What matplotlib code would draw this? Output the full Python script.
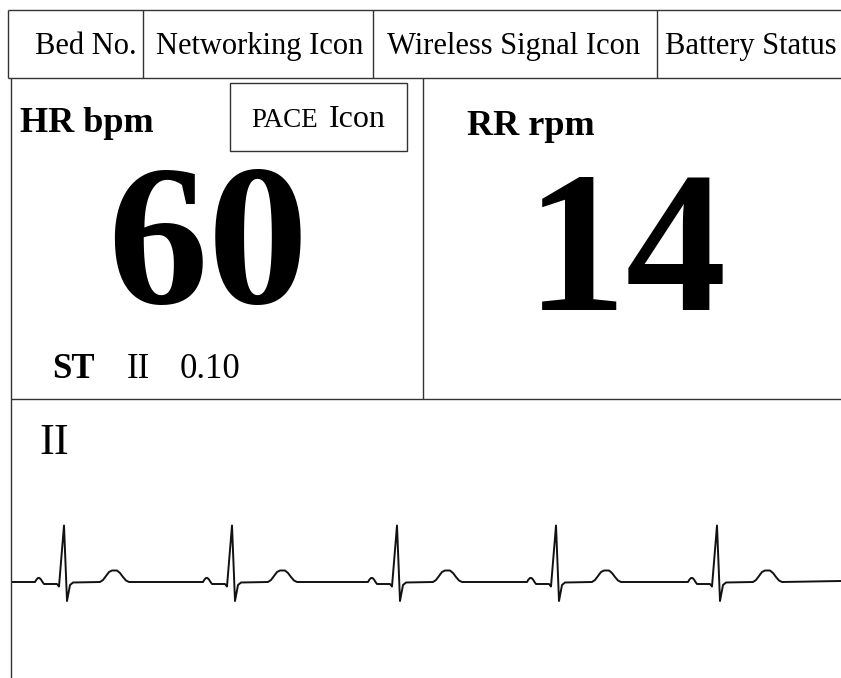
import numpy as np
import matplotlib.pyplot as plt
from matplotlib.patches import Rectangle

# Teksty paska nagłówka (pozycje środków w pikselach)
header_labels = ['Bed No.', 'Networking Icon', 'Wireless Signal Icon', 'Battery Status']
header_centers = [86, 260, 514, 751]
header_dividers = [143, 373, 657]

# Parametry życiowe
hr_value = '60'
rr_value = '14'
st_lead = 'II'
st_value = '0.10'
ecg_lead = 'II'

# Położenia załamków R (x) i kształt jednego pobudzenia (dx, dy)
r_peaks = [64, 232, 397, 556, 717]
beat_dx = [-29, -27.5, -26, -24.5, -23, -21.5, -20, -7, -5, 0, 3, 6, 9,
           36, 39, 42, 45, 48, 53, 56, 59, 62, 65]
beat_dy = [0, -2.5, -4, -4, -2.5, 0, 2, 2, 4.5, -56.5, 19, 3, 0.5,
           0, -2, -6, -10, -11.5, -11.5, -9, -5, -1.5, 0]
ecg_start = 13
ecg_end = 841
ecg_baseline = 582

SERIF = ['Liberation Serif', 'DejaVu Serif']
LINE_COLOR = '#333333'
LW = 1.0

fig = plt.figure(figsize=(8.41, 6.78), dpi=100)
ax = fig.add_axes([0, 0, 1, 1])
ax.set_xlim(0, 841)
ax.set_ylim(678, 0)
ax.axis('off')


def hline(y, x0, x1):
    ax.plot([x0, x1], [y, y], color=LINE_COLOR, lw=LW, solid_capstyle='butt')


def vline(x, y0, y1):
    ax.plot([x, x], [y0, y1], color=LINE_COLOR, lw=LW, solid_capstyle='butt')


# Pasek nagłówka
hline(10, 8, 841)
hline(78, 8, 841)
vline(8, 10, 78)
for xd in header_dividers:
    vline(xd, 10, 78)
for label, cx in zip(header_labels, header_centers):
    ax.text(cx, 54, label, ha='center', va='baseline', fontsize=22, family=SERIF)

# Panele HR / RR
vline(11, 78, 678)
vline(423, 78, 399)
hline(399, 11, 841)

ax.text(20, 132, 'HR bpm', ha='left', va='baseline', fontsize=26,
        fontweight='bold', family=SERIF)
ax.add_patch(Rectangle((230, 83), 177, 68, fill=False, edgecolor=LINE_COLOR, lw=LW))
ax.text(251, 127, 'PACE', ha='left', va='baseline', fontsize=19.5, family=SERIF)
ax.text(386, 127, 'Icon', ha='right', va='baseline', fontsize=23, family=SERIF)
ax.text(208, 303, hr_value, ha='center', va='baseline', fontsize=145,
        fontweight='bold', family=SERIF)

ax.text(52, 378, 'ST', ha='left', va='baseline', fontsize=25,
        fontweight='bold', family=SERIF)
ax.text(127, 378, st_lead, ha='left', va='baseline', fontsize=25, family=SERIF)
ax.text(180, 378, st_value, ha='left', va='baseline', fontsize=25, family=SERIF)

ax.text(467, 135, 'RR rpm', ha='left', va='baseline', fontsize=26,
        fontweight='bold', family=SERIF)
ax.text(627, 310, rr_value, ha='center', va='baseline', fontsize=145,
        fontweight='bold', family=SERIF)

# Krzywa EKG
ax.text(39, 454, ecg_lead, ha='left', va='baseline', fontsize=32, family=SERIF)

xs = [ecg_start]
ys = [ecg_baseline]
for r in r_peaks:
    for dx, dy in zip(beat_dx, beat_dy):
        xs.append(r + dx)
        ys.append(ecg_baseline + dy)
xs.append(ecg_end)
ys.append(ecg_baseline - 1)
ax.plot(xs, ys, color='#111111', lw=1.4, solid_joinstyle='round')

fig.savefig('out.png', dpi=100)
